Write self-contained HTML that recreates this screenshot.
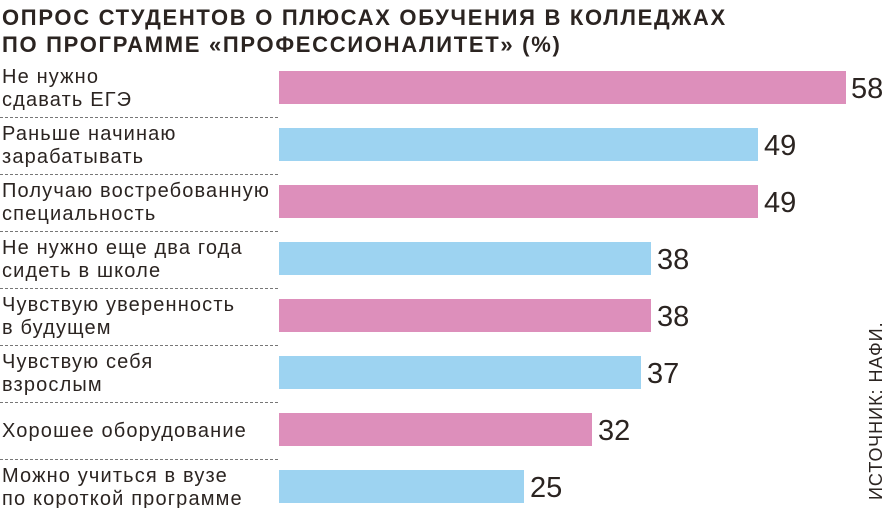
<!DOCTYPE html>
<html><head><meta charset="utf-8"><style>
body{margin:0;background:#fff;width:887px;height:508px;overflow:hidden}
svg{display:block;font-family:"Liberation Sans","DejaVu Sans",sans-serif}
</style></head><body>
<svg width="887" height="508" viewBox="0 0 887 508">
<g fill="#2b2421" font-weight="bold" font-size="22" letter-spacing="1.7">
<text x="2" y="25">ОПРОС СТУДЕНТОВ О ПЛЮСАХ ОБУЧЕНИЯ В КОЛЛЕДЖАХ</text>
<text x="2" y="52">ПО ПРОГРАММЕ «ПРОФЕССИОНАЛИТЕТ» (%)</text>
</g>
<g stroke="#777" stroke-width="1" stroke-dasharray="3,2">
<line x1="0" y1="117.5" x2="279" y2="117.5"/><line x1="0" y1="174.5" x2="279" y2="174.5"/>
<line x1="0" y1="231.5" x2="279" y2="231.5"/><line x1="0" y1="288.5" x2="279" y2="288.5"/>
<line x1="0" y1="345.5" x2="279" y2="345.5"/><line x1="0" y1="402.5" x2="279" y2="402.5"/>
<line x1="0" y1="459.5" x2="279" y2="459.5"/>
</g>
<g>
<rect x="279" y="71" width="567" height="33" fill="#dd8fbb"/>
<rect x="279" y="128" width="479" height="33" fill="#9dd3f1"/>
<rect x="279" y="185" width="479" height="33" fill="#dd8fbb"/>
<rect x="279" y="242" width="372" height="33" fill="#9dd3f1"/>
<rect x="279" y="299" width="372" height="33" fill="#dd8fbb"/>
<rect x="279" y="356" width="362" height="33" fill="#9dd3f1"/>
<rect x="279" y="413" width="313" height="33" fill="#dd8fbb"/>
<rect x="279" y="470" width="245" height="33" fill="#9dd3f1"/>
</g>
<g fill="#2b2421" font-size="29">
<text x="851" y="98">58</text><text x="764" y="155">49</text><text x="764" y="212">49</text>
<text x="657" y="269">38</text><text x="657" y="326">38</text><text x="647" y="383">37</text>
<text x="598" y="440">32</text><text x="530" y="497">25</text>
</g>
<g fill="#2b2421" font-size="20" letter-spacing="1.15">
<text x="2" y="83">Не нужно</text><text x="2" y="106">сдавать ЕГЭ</text>
<text x="2" y="140">Раньше начинаю</text><text x="2" y="163">зарабатывать</text>
<text x="2" y="197">Получаю востребованную</text><text x="2" y="220">специальность</text>
<text x="2" y="254">Не нужно еще два года</text><text x="2" y="277">сидеть в школе</text>
<text x="2" y="311">Чувствую уверенность</text><text x="2" y="334">в будущем</text>
<text x="2" y="368">Чувствую себя</text><text x="2" y="391">взрослым</text>
<text x="2" y="437">Хорошее оборудование</text>
<text x="2" y="482">Можно учиться в вузе</text><text x="2" y="505">по короткой программе</text>
</g>
<text transform="translate(882,500) rotate(-90)" fill="#2b2421" font-size="18" letter-spacing="1">ИСТОЧНИК: НАФИ.</text>
</svg>
</body></html>
